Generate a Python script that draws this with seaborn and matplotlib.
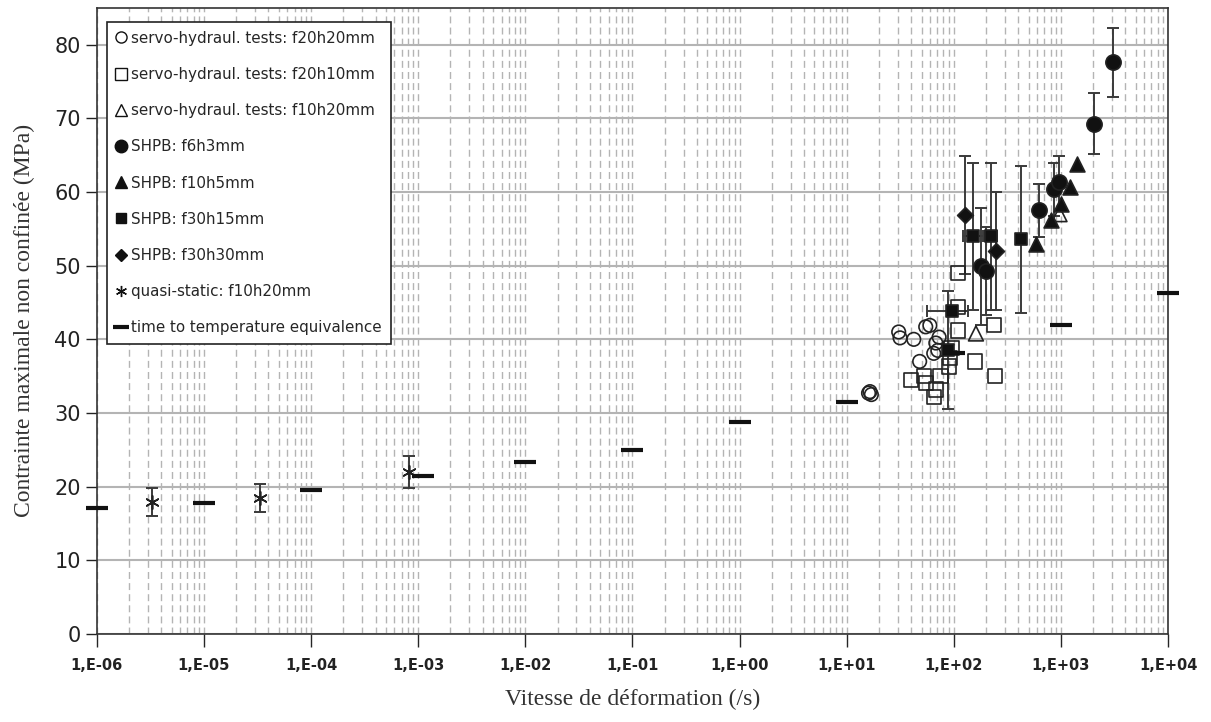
import matplotlib
matplotlib.use("Agg")
import matplotlib.pyplot as plt
import matplotlib.ticker as mticker
from matplotlib.lines import Line2D
import seaborn as sns
import pandas as pd

# time to temperature equivalence (dashes)
ttt_rate = [1e-6, 1e-5, 1e-4, 1.1e-3, 1e-2, 1e-1, 1.0, 10.0, 100.0, 1000.0, 10000.0]
ttt_stress = [17.1, 17.8, 19.5, 21.4, 23.4, 25.0, 28.8, 31.5, 38.1, 42.0, 46.3]

# quasi-static f10h20mm
qs_rate = [3.3e-6, 3.3e-5, 8.2e-4]
qs_stress = [17.9, 18.5, 22.0]
qs_err = [1.9, 1.9, 2.2]

# servo-hydraulic tests
sh2020_rate = [16.0, 16.5, 17.0, 30.6, 31.5, 42.3, 54.7, 59.8, 48.0, 68.0, 71.0, 65.0, 73.0]
sh2020_stress = [32.7, 32.9, 32.5, 41.0, 40.2, 40.0, 41.7, 41.9, 37.0, 39.5, 38.5, 38.1, 40.3]
sh2010_rate = [39.8, 52.5, 54.7, 68.0, 65.0, 75.0, 90.0, 92.0, 95.0, 109.0, 109.0, 109.0, 157.0, 236.0, 242.0]
sh2010_stress = [34.5, 35.0, 34.1, 33.2, 32.2, 35.0, 36.3, 37.5, 38.8, 41.2, 44.4, 49.0, 37.0, 41.9, 35.0]
sh1020_rate = [161.0, 970.0]
sh1020_stress = [40.8, 57.0]

# SHPB tests
f6h3_rate = [179.0, 199.0, 620.0, 860.0, 960.0, 2040.0, 3060.0]
f6h3_stress = [49.9, 49.3, 57.5, 60.4, 61.3, 69.3, 77.6]
f6h3_err = [8.0, 6.0, 3.6, 3.6, 3.6, 4.2, 4.7]
f10h5_rate = [583.0, 807.0, 1000.0, 1213.0, 1410.0]
f10h5_stress = [52.9, 56.2, 58.4, 60.7, 63.8]
f30h15_rate = [88.0, 96.0, 151.0, 222.0, 423.0]
f30h15_stress = [38.6, 43.8, 54.0, 54.0, 53.6]
f30h15_err = [8.0, 0.0, 10.0, 10.0, 10.0]
f30h15_xlo = [0.0, 40.0, 30.0, 30.0, 0.0]
f30h15_xhi = [0.0, 39.0, 35.0, 30.0, 0.0]
f30h30_rate = [127.0, 247.0]
f30h30_stress = [56.9, 52.0]
f30h30_err = [8.0, 8.0]

labels = [
    "servo-hydraul. tests: f20h20mm",
    "servo-hydraul. tests: f20h10mm",
    "servo-hydraul. tests: f10h20mm",
    "SHPB: f6h3mm",
    "SHPB: f10h5mm",
    "SHPB: f30h15mm",
    "SHPB: f30h30mm",
    "quasi-static: f10h20mm",
    "time to temperature equivalence",
]
xtick_vals = [1e-6, 1e-5, 1e-4, 1e-3, 1e-2, 1e-1, 1e0, 1e1, 1e2, 1e3, 1e4]
xtick_labels = ["1,E-06", "1,E-05", "1,E-04", "1,E-03", "1,E-02", "1,E-01",
                "1,E+00", "1,E+01", "1,E+02", "1,E+03", "1,E+04"]

sns.set_theme(style="white")
plt.rcParams["font.family"] = ["DejaVu Sans"]

fig = plt.figure(figsize=(12.11, 7.22), dpi=100)
ax = fig.add_axes([0.080, 0.122, 0.8845, 0.867])
ax.set_xscale("log")

ebkw = dict(fmt="none", ecolor="#3a3a3a", elinewidth=1.4, capsize=4, capthick=1.4, zorder=2)
ax.errorbar(qs_rate, qs_stress, yerr=qs_err, **ebkw)
ax.errorbar(f6h3_rate, f6h3_stress, yerr=f6h3_err, **ebkw)
ax.errorbar(f30h15_rate, f30h15_stress, yerr=f30h15_err, xerr=[f30h15_xlo, f30h15_xhi], **ebkw)
ax.errorbar(f30h30_rate, f30h30_stress, yerr=f30h30_err, **ebkw)

def scat(x, y, marker, size, face, lw=1.2):
    df = pd.DataFrame({"rate": x, "stress": y})
    sns.scatterplot(data=df, x="rate", y="stress", marker=marker, s=size,
                    facecolor=face, edgecolor="#222222", linewidth=lw, ax=ax, zorder=3)

scat(sh2020_rate, sh2020_stress, "o", 95, "none")
scat(sh2010_rate, sh2010_stress, "s", 105, "none")
scat(sh1020_rate, sh1020_stress, "^", 115, "none")
scat(f6h3_rate, f6h3_stress, "o", 120, "#111111")
scat(f10h5_rate, f10h5_stress, "^", 115, "#111111")
scat(f30h15_rate, f30h15_stress, "s", 85, "#111111")
scat(f30h30_rate, f30h30_stress, "D", 65, "#111111")

df_qs = pd.DataFrame({"rate": qs_rate, "stress": qs_stress})
sns.scatterplot(data=df_qs, x="rate", y="stress", marker=(6, 2, 0), s=90,
                color="#222222", linewidth=1.2, ax=ax, zorder=3)
df_ttt = pd.DataFrame({"rate": ttt_rate, "stress": ttt_stress})
sns.scatterplot(data=df_ttt, x="rate", y="stress", marker="_", s=260,
                color="#111111", linewidth=3, ax=ax, zorder=4, clip_on=False)

ax.set_xlim(1e-6, 1e4)
ax.set_ylim(0, 85)
ax.set_yticks(range(0, 90, 10))
ax.set_xticks(xtick_vals)
ax.set_xticklabels(xtick_labels, fontsize=10.5, fontweight="bold", color="#222222")
ax.xaxis.set_minor_locator(mticker.LogLocator(base=10, subs=range(2, 10), numticks=100))
ax.xaxis.set_minor_formatter(mticker.NullFormatter())
ax.tick_params(axis="y", labelsize=15, colors="#222222", length=8, width=1, direction="out", left=True)
ax.tick_params(axis="x", which="major", length=9, width=1, direction="out", bottom=True, pad=8)
ax.tick_params(axis="x", which="minor", length=0)

ax.grid(axis="y", which="major", color="#b4b4b4", linestyle="-", linewidth=1.5)
ax.grid(axis="x", which="both", color="#b4b4b4", linestyle=(0, (5, 3)), linewidth=1.0)
ax.set_axisbelow(True)
for sp in ax.spines.values():
    sp.set_color("#333333")
    sp.set_linewidth(1.2)

ax.set_xlabel("Vitesse de déformation (/s)", fontsize=17, family="Liberation Serif", color="#333333", labelpad=12)
ax.set_ylabel("Contrainte maximale non confinée (MPa)", fontsize=17, family="Liberation Serif", color="#333333", labelpad=14)

k = "#111111"
handles = [
    Line2D([], [], marker="o", ls="none", mfc="none", mec=k, ms=8),
    Line2D([], [], marker="s", ls="none", mfc="none", mec=k, ms=8),
    Line2D([], [], marker="^", ls="none", mfc="none", mec=k, ms=8),
    Line2D([], [], marker="o", ls="none", mfc=k, mec=k, ms=9),
    Line2D([], [], marker="^", ls="none", mfc=k, mec=k, ms=9),
    Line2D([], [], marker="s", ls="none", mfc=k, mec=k, ms=7),
    Line2D([], [], marker="D", ls="none", mfc=k, mec=k, ms=6),
    Line2D([], [], marker=(6, 2, 0), ls="none", color=k, ms=8),
    Line2D([], [], marker="_", ls="none", color=k, ms=12, mew=3),
]
leg = ax.legend(handles, labels, loc="upper left", bbox_to_anchor=(0.009, 0.978),
                borderaxespad=0, fontsize=10.9, labelspacing=1.4, handlelength=0.7,
                handletextpad=0.35, borderpad=0.6, frameon=True, fancybox=False)
leg.get_frame().set_edgecolor("#222222")
leg.get_frame().set_linewidth(1.2)
leg.get_frame().set_facecolor("white")
leg.get_frame().set_alpha(1)

fig.savefig("out.png", dpi=100)
plt.close(fig)
